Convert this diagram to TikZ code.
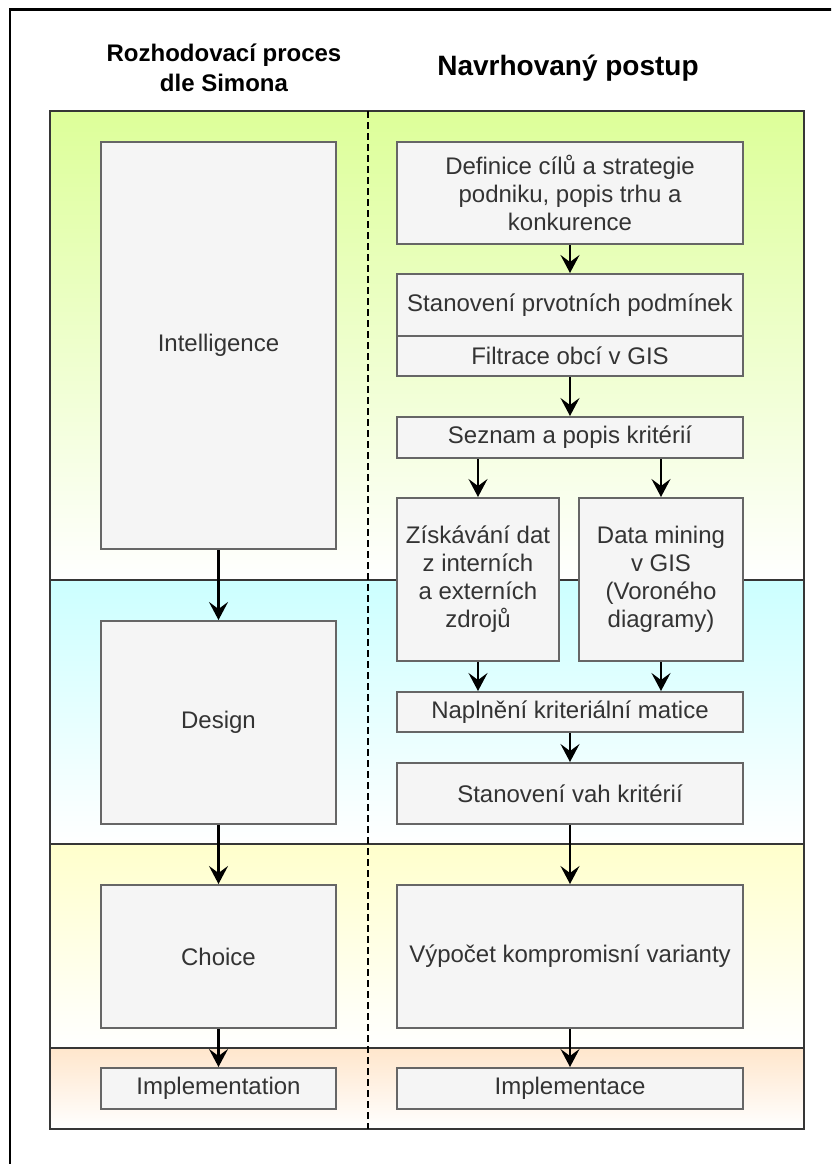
\documentclass[tikz,border=0pt]{standalone}
\usepackage{fontspec}
\setmainfont{Liberation Sans}
\usetikzlibrary{arrows.meta}
\definecolor{boxfill}{HTML}{F5F5F5}
\definecolor{boxline}{HTML}{666666}
\definecolor{txt}{HTML}{333333}
\definecolor{lane}{HTML}{363636}
\definecolor{cgreen}{HTML}{DDFF99}
\definecolor{ccyan}{HTML}{CCFFFF}
\definecolor{cyellow}{HTML}{FFFFCC}
\definecolor{corange}{HTML}{FFE6CC}
\begin{document}
\begin{tikzpicture}[x=1pt,y=-1pt,
  stepbox/.style={draw=boxline, fill=boxfill, line width=2pt, text=txt,
    font=\fontsize{24}{28}\selectfont, align=center, inner sep=0pt, rectangle},
  flow/.style={-{Stealth[length=18pt,width=19pt,inset=7pt]}, line width=2.2pt, draw=black},
  laneline/.style={draw=lane, line width=2.2pt},
  hdr/.style={font=\bfseries\fontsize{24}{29.5}\selectfont, align=center, text=black},
  sep/.style={draw=black, line width=2pt, dash pattern=on 7pt off 4pt}
]
\useasboundingbox (0,0) rectangle (831,1164);
\clip (0,0) rectangle (831,1164);
\fill[white] (0,0) rectangle (831,1164);
% outer frame (only top and left edges fall inside the picture)
\draw[line width=2.2pt, black] (10,9.5) rectangle (860,1190);

% headers
\node[hdr] (h1) at (224,68) {Rozhodovací proces\\dle Simona};
\node[font=\bfseries\fontsize{28}{34}\selectfont, anchor=base, text=black] (h2) at (568,75) {Navrhovaný postup};

% lanes
\shade[top color=cgreen, bottom color=white] (50,111) rectangle (804,580);
\shade[top color=ccyan, bottom color=white] (50,580) rectangle (804,844);
\shade[top color=cyellow, bottom color=white] (50,844) rectangle (804,1048);
\shade[top color=corange, bottom color=white] (50,1048) rectangle (804,1129);
\draw[laneline] (50,580) -- (804,580);
\draw[laneline] (50,844) -- (804,844);
\draw[laneline] (50,1048) -- (804,1048);
\draw[laneline] (50,111) rectangle (804,1129);
\draw[sep] (367.5,111) -- (367.5,1129);

% left column
\node[stepbox, minimum width=235pt, minimum height=407pt] (intel) at (218.5,345.5) {Intelligence};
\node[stepbox, minimum width=235pt, minimum height=203pt] (design) at (218.5,722.5) {Design};
\node[stepbox, minimum width=235pt, minimum height=143pt] (choice) at (218.5,956.5) {Choice};
\node[stepbox, minimum width=235pt, minimum height=41pt] (impl) at (218.5,1088.5) {Implementation};

% right column
\node[stepbox, minimum width=346pt, minimum height=102pt] (defin) at (570,193) {Definice cílů a strategie\\podniku, popis trhu a\\konkurence};
\node[stepbox, minimum width=346pt, minimum height=62pt] (stan) at (570,305) {Stanovení prvotních podmínek};
\node[stepbox, minimum width=346pt, minimum height=40pt] (filtr) at (570,356) {Filtrace obcí v GIS};
\node[stepbox, minimum width=346pt, minimum height=41pt] (sezn) at (570,437.5) {Seznam a popis kritérií};
\node[stepbox, minimum width=162pt, minimum height=163pt] (zisk) at (478,579.5) {Získávání dat\\z interních\\a externích\\zdrojů};
\node[stepbox, minimum width=164pt, minimum height=163pt] (dm) at (661,579.5) {Data mining\\v GIS\\(Voroného\\diagramy)};
\node[stepbox, minimum width=346pt, minimum height=40pt] (napl) at (570,712) {Naplnění kriteriální matice};
\node[stepbox, minimum width=346pt, minimum height=61pt] (vahy) at (570,793.5) {Stanovení vah kritérií};
\node[stepbox, minimum width=346pt, minimum height=143pt] (vyp) at (570,956.5) {Výpočet kompromisní varianty};
\node[stepbox, minimum width=346pt, minimum height=41pt] (implc) at (570,1088.5) {Implementace};

% connectors
\draw[flow] (intel.south) -- (design.north);
\draw[flow] (design.south) -- (choice.north);
\draw[flow] (choice.south) -- (impl.north);
\draw[flow] (defin.south) -- (stan.north);
\draw[flow] (filtr.south) -- (sezn.north);
\draw[flow] (zisk.north |- sezn.south) -- (zisk.north);
\draw[flow] (dm.north |- sezn.south) -- (dm.north);
\draw[flow] (zisk.south) -- (zisk.south |- napl.north);
\draw[flow] (dm.south) -- (dm.south |- napl.north);
\draw[flow] (napl.south) -- (vahy.north);
\draw[flow] (vahy.south) -- (vyp.north);
\draw[flow] (vyp.south) -- (implc.north);
\end{tikzpicture}
\end{document}
